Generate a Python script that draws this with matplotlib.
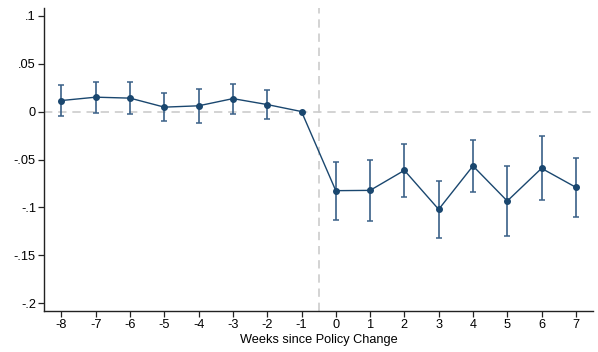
import matplotlib
matplotlib.use("Agg")
import matplotlib.pyplot as plt

weeks = [-8, -7, -6, -5, -4, -3, -2, -1, 0, 1, 2, 3, 4, 5, 6, 7]
coef = [0.0115, 0.0150, 0.0140, 0.0046, 0.0060, 0.0135, 0.0073, 0.0,
        -0.0825, -0.0822, -0.0613, -0.1020, -0.0567, -0.0933, -0.0592, -0.0790]
ci_hi = [0.0272, 0.0307, 0.0310, 0.0192, 0.0234, 0.0292, 0.0226, 0.0,
         -0.0522, -0.0505, -0.0341, -0.0724, -0.0293, -0.0564, -0.0257, -0.0481]
ci_lo = [-0.0048, -0.0014, -0.0027, -0.0100, -0.0115, -0.0024, -0.0080, 0.0,
         -0.1135, -0.1139, -0.0888, -0.1316, -0.0839, -0.1302, -0.0920, -0.1100]
yticks = [0.1, 0.05, 0, -0.05, -0.1, -0.15, -0.2]
ytick_labels = [".1", ".05", "0", "-.05", "-.1", "-.15", "-.2"]
xlabel = "Weeks since Policy Change"

plt.rcParams['font.family'] = ['Liberation Sans', 'DejaVu Sans']

fig = plt.figure(figsize=(5.98, 3.52), dpi=100)
ax = fig.add_axes([44.3/598, 1-311/352, (593-44.3)/598, (311-8)/352])

navy = '#1a476f'
ax.axhline(0, color='#cccccc', lw=1.2, ls=(0, (5, 3.5)), zorder=1)
ax.axvline(-0.5, color='#cccccc', lw=1.2, ls=(0, (5, 3.5)), zorder=1)

idx = [i for i in range(len(weeks)) if ci_hi[i] != ci_lo[i]]
ax.vlines([weeks[i] for i in idx], [ci_lo[i] for i in idx], [ci_hi[i] for i in idx],
          color='#3a6088', lw=1.2, zorder=2)
ax.errorbar([weeks[i] for i in idx], [coef[i] for i in idx],
            yerr=[[coef[i]-ci_lo[i] for i in idx], [ci_hi[i]-coef[i] for i in idx]],
            fmt='none', ecolor='#3a6088', elinewidth=0, capsize=2.5, capthick=1.1, zorder=2)
ax.plot(weeks, coef, color=navy, lw=1.0, marker='o', ms=4.0, zorder=3)

ax.set_xlim(-8.5, 7.5)
ax.set_ylim(-0.208, 0.108)
ax.set_xticks(weeks)
ax.set_xticklabels([str(w) for w in weeks])
ax.set_yticks(yticks)
ax.set_yticklabels(ytick_labels)
for s in ['top', 'right']:
    ax.spines[s].set_visible(False)
for s in ['left', 'bottom']:
    ax.spines[s].set_linewidth(1.0)
    ax.spines[s].set_color('#222222')
ax.tick_params(axis='both', labelsize=9.2, length=4, width=0.9, color='#222222', pad=2)
ax.set_xlabel(xlabel, fontsize=9.2, labelpad=2)

fig.savefig("out.png", dpi=100)
